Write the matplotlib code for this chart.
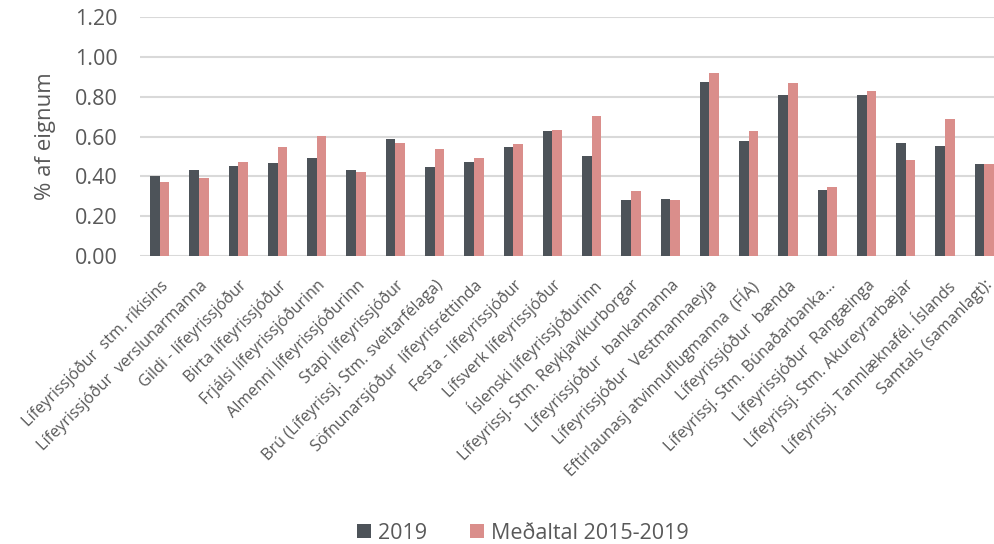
import numpy as np
import matplotlib
matplotlib.use("Agg")
import matplotlib.pyplot as plt
from matplotlib.ticker import FormatStrFormatter

plt.rcParams['font.family'] = ['Open Sans', 'DejaVu Sans']

categories = [
    "Lífeyrissjóður  stm. ríkisins",
    "Lífeyrissjóður  verslunarmanna",
    "Gildi - lífeyrissjóður",
    "Birta lífeyrissjóður",
    "Frjálsi lífeyrissjóðurinn",
    "Almenni lífeyrissjóðurinn",
    "Stapi lífeyrissjóður",
    "Brú (Lífeyrissj. Stm. sveitarfélaga)",
    "Söfnunarsjóður  lífeyrisréttinda",
    "Festa - lífeyrissjóður",
    "Lífsverk lífeyrissjóður",
    "Íslenski lífeyrissjóðurinn",
    "Lífeyrissj. Stm. Reykjavíkurborgar",
    "Lífeyrissjóður  bankamanna",
    "Lífeyrissjóður  Vestmannaeyja",
    "Eftirlaunasj atvinnuflugmanna  (FÍA)",
    "Lífeyrissjóður  bænda",
    "Lífeyrissj. Stm. Búnaðarbanka...",
    "Lífeyrissjóður  Rangæinga",
    "Lífeyrissj. Stm. Akureyrarbæjar",
    "Lífeyrissj. Tannlæknafél. Íslands",
    "Samtals (samanlagt):",
]
vals_2019 = [0.40, 0.43, 0.45, 0.465, 0.49, 0.43, 0.59, 0.445, 0.47, 0.55, 0.63,
             0.50, 0.28, 0.285, 0.875, 0.58, 0.81, 0.33, 0.81, 0.57, 0.555, 0.46]
vals_avg = [0.37, 0.39, 0.47, 0.55, 0.605, 0.42, 0.57, 0.54, 0.49, 0.565, 0.635,
            0.705, 0.325, 0.28, 0.92, 0.63, 0.87, 0.345, 0.83, 0.48, 0.69, 0.46]
series_names = ["2019", "Meðaltal 2015-2019"]

dark = "#4D5359"
pink = "#DA8E8B"
grey = "#595959"

fig = plt.figure(figsize=(9.94, 5.44), dpi=100)
ax = fig.add_axes([0.141, 0.529, 0.869, 0.44])

x = np.arange(len(categories))
w = 0.245
ax.bar(x - w / 2, vals_2019, w, color=dark, label=series_names[0], zorder=3)
ax.bar(x + w / 2, vals_avg, w, color=pink, label=series_names[1], zorder=3)

ax.set_xlim(-0.5, len(categories) - 0.5)
ax.set_ylim(0, 1.2)
ax.set_yticks(np.arange(0, 1.21, 0.2))
ax.yaxis.set_major_formatter(FormatStrFormatter('%.2f'))
ax.grid(axis='y', color='#D9D9D9', linewidth=1.5, zorder=0)
for s in ax.spines.values():
    s.set_visible(False)
ax.tick_params(axis='both', length=0, colors=grey)
ax.tick_params(axis='y', labelsize=15.5, pad=16)

ax.set_xticks(x)
ax.set_xticklabels(categories, rotation=45, ha='right', rotation_mode='anchor',
                   fontsize=11.6, color=grey)
ax.tick_params(axis='x', pad=15)

ax.set_ylabel("% af eignum", fontsize=16, color=grey, labelpad=14)

fig.legend(loc='center', bbox_to_anchor=(0.526, 0.02), ncol=2, frameon=False,
           fontsize=15.5, labelcolor=grey, handlelength=0.65, handleheight=0.65,
           columnspacing=2.0, handletextpad=0.3)

fig.savefig("out.png", dpi=100)
